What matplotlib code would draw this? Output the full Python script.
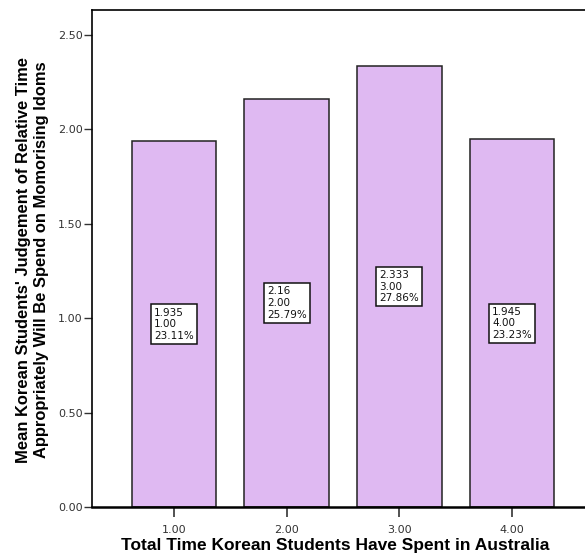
import matplotlib.pyplot as plt

# data
groups = [1.0, 2.0, 3.0, 4.0]
means = [1.935, 2.16, 2.333, 1.945]
mean_labels = ['1.935', '2.16', '2.333', '1.945']
percents = ['23.11%', '25.79%', '27.86%', '23.23%']
yticks = [0.0, 0.5, 1.0, 1.5, 2.0, 2.5]

bar_color = '#dfb9f2'

fig = plt.figure(figsize=(5.85, 5.59), dpi=100)
ax = fig.add_axes([0.1578, 0.093, 0.857, 0.889])

ax.bar(groups, means, width=0.75, color=bar_color, edgecolor='#222222', linewidth=1.1, zorder=2)

# value boxes at half height of each bar
for g, m, ml, p in zip(groups, means, mean_labels, percents):
    txt = ml + '\n' + '%.2f' % g + '\n' + p
    ax.text(g, m / 2, txt, ha='center', va='center', multialignment='left',
            fontsize=7.5, family='DejaVu Sans', color='#111111', linespacing=1.2,
            bbox=dict(boxstyle='square,pad=0.3', facecolor='white', edgecolor='#111111', linewidth=1.1),
            zorder=3)

ax.set_xlim(0.275, 4.725)
ax.set_ylim(0, 2.63)
ax.set_xticks(groups)
ax.set_xticklabels(['%.2f' % g for g in groups])
ax.set_yticks(yticks)
ax.set_yticklabels(['%.2f' % t for t in yticks])

for lab in ax.get_xticklabels() + ax.get_yticklabels():
    lab.set_family('DejaVu Sans')
    lab.set_fontsize(8)
    lab.set_color('#333333')

ax.tick_params(axis='y', direction='out', length=6, width=1, color='#333333', pad=1)
ax.tick_params(axis='x', direction='out', length=7, width=1.2, color='#333333', pad=6)

ax.spines['right'].set_visible(False)
ax.spines['top'].set_linewidth(1.2)
ax.spines['left'].set_linewidth(1.2)
ax.spines['bottom'].set_linewidth(1.8)

ax.set_xlabel('Total Time Korean Students Have Spent in Australia', fontsize=12.5,
              fontweight='bold', family='Liberation Sans')
ax.xaxis.set_label_coords(0.484, -0.062)
ax.set_ylabel("Mean Korean Students' Judgement of Relative Time\nAppropriately Will Be Spend on Momorising Idoms",
              fontsize=11.9, fontweight='bold', family='Liberation Sans',
              linespacing=1.3)
ax.yaxis.set_label_coords(-0.086, 0.497)

fig.savefig('out.png', dpi=100)
